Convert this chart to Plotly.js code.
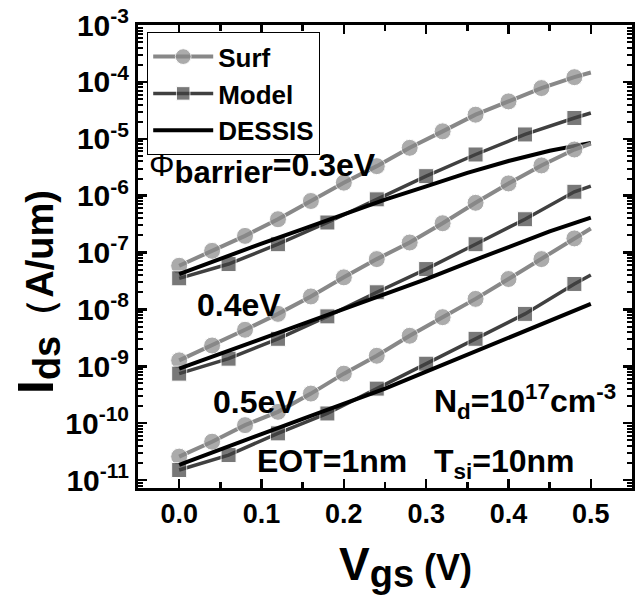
<!DOCTYPE html>
<html>
<head>
<meta charset="utf-8">
<script src="https://cdn.plot.ly/plotly-3.0.1.min.js"></script>
<style>html,body{margin:0;padding:0;background:#fff;}#chart{width:640px;height:601px;}</style>
</head>
<body>
<div id="chart"></div>
<script>
// Gate voltages (V)
const vgsSurf   = [0, 0.04, 0.08, 0.12, 0.16, 0.20, 0.24, 0.28, 0.32, 0.36, 0.40, 0.44, 0.48, 0.50];
const vgsModel  = [0, 0.06, 0.12, 0.18, 0.24, 0.30, 0.36, 0.42, 0.48, 0.50];
const vgsDessis = [0, 0.05, 0.10, 0.15, 0.20, 0.25, 0.30, 0.35, 0.40, 0.45, 0.50];

// Phi_barrier = 0.3 eV
const surf03   = [5.85e-8, 1.07e-7, 1.96e-7, 3.85e-7, 8.05e-7, 1.69e-6, 3.30e-6, 6.93e-6, 1.35e-5, 2.65e-5, 4.54e-5, 7.78e-5, 1.21e-4, 1.46e-4];
const model03  = [3.52e-8, 6.27e-8, 1.40e-7, 3.37e-7, 8.61e-7, 2.20e-6, 5.29e-6, 1.19e-5, 2.32e-5, 2.84e-5];
const dessis03 = [4.19e-8, 7.85e-8, 1.43e-7, 2.59e-7, 4.72e-7, 8.51e-7, 1.46e-6, 2.51e-6, 4.07e-6, 6.17e-6, 8.47e-6];

// Phi_barrier = 0.4 eV
const surf04   = [1.27e-9, 2.32e-9, 4.38e-9, 8.34e-9, 1.69e-8, 3.66e-8, 7.66e-8, 1.50e-7, 3.27e-7, 7.48e-7, 1.64e-6, 3.40e-6, 6.47e-6, 8.24e-6];
const model04  = [7.42e-10, 1.36e-9, 3.04e-9, 7.54e-9, 2.00e-8, 5.12e-8, 1.40e-7, 3.85e-7, 1.17e-6, 1.47e-6];
const dessis04 = [9.08e-10, 1.66e-9, 3.02e-9, 5.50e-9, 1.00e-8, 1.82e-8, 3.40e-8, 6.60e-8, 1.27e-7, 2.35e-7, 4.12e-7];

// Phi_barrier = 0.5 eV
const surf05   = [2.58e-11, 4.72e-11, 9.23e-11, 1.58e-10, 3.31e-10, 7.42e-10, 1.53e-9, 3.44e-9, 7.30e-9, 1.53e-8, 3.42e-8, 7.66e-8, 1.77e-7, 2.64e-7];
const model05  = [1.50e-11, 2.75e-11, 6.61e-11, 1.48e-10, 4.05e-10, 1.11e-9, 3.04e-9, 8.34e-9, 2.80e-8, 4.02e-8];
const dessis05 = [1.84e-11, 3.49e-11, 6.44e-11, 1.19e-10, 2.19e-10, 4.05e-10, 8.04e-10, 1.60e-9, 3.10e-9, 6.29e-9, 1.25e-8];

const seriesNames = ['Surf', 'Model', 'DESSIS'];

// y tick exponents and labels
const yExponents = [-11, -10, -9, -8, -7, -6, -5, -4, -3];
const yTickText  = ['10<sup>-11</sup>', '10<sup>-10</sup>', '10<sup>-9</sup>', '10<sup>-8</sup>', '10<sup>-7</sup>',
                    '10<sup>-6</sup>', '10<sup>-5</sup>', '10<sup>-4</sup>', '10<sup>-3</sup>'];

const FONT = 'Liberation Sans, Arial, Helvetica, sans-serif';
const SURF_C = '#888888', MODEL_C = '#404040', DESSIS_C = '#000000';

// markers on all points but the last (line end only)
function sizes(arr, s) { return arr.map((v, i) => i < arr.length - 1 ? s : 0); }

const groups = [[surf03, model03, dessis03], [surf04, model04, dessis04], [surf05, model05, dessis05]];
const traces = [];
groups.forEach((g, gi) => {
  traces.push({
    x: vgsSurf, y: g[0], name: seriesNames[0], mode: 'lines+markers', type: 'scatter',
    legendgroup: 'surf', showlegend: gi === 0,
    line: {color: SURF_C, width: 4},
    marker: {symbol: 'circle', color: SURF_C, size: sizes(vgsSurf, 17)}
  });
  traces.push({
    x: vgsModel, y: g[1], name: seriesNames[1], mode: 'lines+markers', type: 'scatter',
    legendgroup: 'model', showlegend: gi === 0,
    line: {color: MODEL_C, width: 3.5},
    marker: {symbol: 'square', color: MODEL_C, size: sizes(vgsModel, 15)}
  });
  traces.push({
    x: vgsDessis, y: g[2], name: seriesNames[2], mode: 'lines', type: 'scatter',
    legendgroup: 'dessis', showlegend: gi === 0,
    line: {color: DESSIS_C, width: 4}
  });
});

const L = 138, R = 632, T = 25, B = 488, W = 640, H = 601;
function px(x) { return (x - L) / (R - L); }
function py(y) { return (B - y) / (B - T); }

const annFont = {family: FONT, size: 32, color: '#000', weight: 700};
const annotations = [
  {x: px(147), y: py(168), xanchor: 'left', yanchor: 'middle',
   text: '<span style="font-weight:400">Φ</span><sub><span style="font-size:31px">barrier</span></sub>=0.3eV'},
  {x: px(195), y: py(305), xanchor: 'left', yanchor: 'middle', text: '0.4eV'},
  {x: px(211), y: py(402), xanchor: 'left', yanchor: 'middle', text: '0.5eV'},
  {x: px(432), y: py(401), xanchor: 'left', yanchor: 'middle', text: 'N<sub>d</sub>=10<sup>17</sup>cm<sup>-3</sup>'},
  {x: px(255), y: py(461), xanchor: 'left', yanchor: 'middle', text: 'EOT=1nm'},
  {x: px(432), y: py(463), xanchor: 'left', yanchor: 'middle', text: 'T<sub>si</sub>=10nm'},
  {x: px(38), y: py(292), xanchor: 'center', yanchor: 'middle', textangle: -90,
   text: '<span style="font-size:50px">I</span><sub><span style="font-size:38px">ds</span></sub><span style="font-size:38px">（A/um)</span>'},
  {x: px(405), y: py(566), xanchor: 'center', yanchor: 'middle',
   text: '<span style="font-size:46px">V</span><sub><span style="font-size:38px">gs</span></sub><span style="font-size:36px"> (V)</span>'}
].map(a => Object.assign({xref: 'paper', yref: 'paper', showarrow: false, font: annFont}, a));

// tick positions for the log axis
const yMajorVals = yExponents.map(e => Math.pow(10, e));
const yMinorVals = [];
for (let e = -12; e <= -3; e++) for (let m = 2; m <= 9; m++) yMinorVals.push(m * Math.pow(10, e));

const axisCommon = {
  showline: true, linecolor: '#000', linewidth: 3, mirror: 'allticks',
  ticks: 'inside', ticklen: 9, tickwidth: 2.5, tickcolor: '#000',
  showgrid: false, zeroline: false,
  tickfont: {family: FONT, size: 27, color: '#000', weight: 700}
};

const layout = {
  width: W, height: H,
  margin: {l: L, r: W - R, t: T, b: H - B, pad: 0},
  paper_bgcolor: '#fff', plot_bgcolor: '#fff',
  showlegend: true,
  legend: {
    x: px(147), y: py(32), xanchor: 'left', yanchor: 'top',
    bgcolor: '#fff', bordercolor: '#000', borderwidth: 1.2,
    font: {family: FONT, size: 26, color: '#000', weight: 700},
    tracegroupgap: 0, itemwidth: 60
  },
  xaxis: Object.assign({}, axisCommon, {
    range: [-0.05, 0.55], dtick: 0.1, tick0: 0, tickformat: '.1f',
    minor: {dtick: 0.05, tick0: 0, ticks: 'inside', ticklen: 6, tickwidth: 2.5, tickcolor: '#000', showgrid: false}
  }),
  yaxis: Object.assign({}, axisCommon, {
    type: 'log', range: [-11.14, -3],
    tickmode: 'array', tickvals: yMajorVals, ticktext: yTickText,
    tickfont: {family: FONT, size: 30, color: '#000', weight: 700},
    minor: {tickmode: 'array', tickvals: yMinorVals, ticks: 'inside', ticklen: 5, tickwidth: 2, tickcolor: '#000', showgrid: false}
  }),
  annotations: annotations
};

Plotly.newPlot('chart', traces, layout, {displayModeBar: false, staticPlot: true});
</script>
</body>
</html>
